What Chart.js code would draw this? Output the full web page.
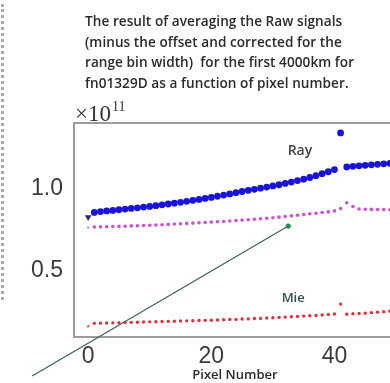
<!DOCTYPE html>
<html>
<head>
<meta charset="utf-8">
<script src="https://cdn.jsdelivr.net/npm/chart.js@4.4.1/dist/chart.umd.min.js"></script>
<style>
  html, body { margin: 0; padding: 0; background: #fff; overflow: hidden; }
  #wrap { position: relative; width: 390px; height: 383px; overflow: hidden; background: #fff; }
  #plot { position: absolute; left: 0; top: 0; width: 420px; height: 383px; }
  #caption {
    position: absolute; left: 85px; top: 11px;
    font: 600 13.6px "Open Sans", sans-serif; line-height: 20.5px;
    letter-spacing: 0.05px; color: #2b2b2b; white-space: pre;
  }
  #edge { position: absolute; left: 1px; top: 4px; height: 296px; border-left: 3px dotted #a3abbb; }
</style>
</head>
<body>
<div id="wrap">
  <div id="edge"></div>
  <div id="plot"><canvas id="chart" width="420" height="383"></canvas></div>
  <div id="caption">The result of averaging the Raw signals
(minus the offset and corrected for the
range bin width)  for the first 4000km for
fn01329D as a function of pixel number.</div>
</div>
<script>
// pixel numbers 0..50
const pixels = [0,1,2,3,4,5,6,7,8,9,10,11,12,13,14,15,16,17,18,19,20,21,22,23,24,25,
  26,27,28,29,30,31,32,33,34,35,36,37,38,39,40,41,42,43,44,45,46,47,48,49,50];

// averaged raw signal, units of 1e11
const rayValues = [0.828,0.857,0.862,0.866,0.869,0.873,0.877,0.881,0.885,0.889,0.893,
  0.898,0.903,0.908,0.913,0.918,0.924,0.930,0.936,0.942,0.948,0.955,0.962,0.969,0.977,
  0.984,0.991,0.997,1.004,1.011,1.018,1.025,1.033,1.041,1.050,1.059,1.069,1.080,1.092,
  1.104,1.117,1.340,1.133,1.137,1.140,1.143,1.146,1.149,1.152,1.155,1.158];

const pinkValues = [0.765,0.768,0.769,0.770,0.771,0.772,0.773,0.775,0.776,0.777,0.779,
  0.780,0.782,0.784,0.786,0.788,0.790,0.792,0.794,0.796,0.798,0.800,0.802,0.805,0.807,
  0.810,0.812,0.815,0.818,0.821,0.824,0.828,0.832,0.836,0.840,0.844,0.848,0.852,0.856,
  0.860,0.866,0.880,0.915,0.893,0.878,0.876,0.875,0.874,0.874,0.873,0.873];

const mieValues = [0.165,0.183,0.184,0.185,0.186,0.187,0.188,0.189,0.190,0.191,0.192,
  0.193,0.194,0.195,0.196,0.197,0.198,0.199,0.200,0.201,0.202,0.203,0.205,0.206,0.207,
  0.209,0.210,0.212,0.213,0.215,0.217,0.219,0.221,0.223,0.225,0.227,0.229,0.231,0.234,
  0.237,0.240,0.300,0.238,0.241,0.243,0.245,0.248,0.251,0.254,0.257,0.260];

const xTickValues = [0, 20, 40];
const yTickValues = [0.5, 1.0];

// pasted-on arrow, in data units
const arrowX = [-9.1, 32.5];
const arrowY = [-0.137, 0.774];

// in-plot labels, in data units
const seriesNames = ['Ray', 'Mie'];
const nameX = [34.4, 33.3];
const nameY = [1.232, 0.333];
const nameColors = ['#454545', '#2d5252'];

function toPoints(xs, ys) {
  return xs.map((x, i) => ({ x: x, y: ys[i] }));
}

const firstStyle = (normal, special) => ctx => ctx.dataIndex === 0 ? special : normal;

const frame = {
  id: 'frame',
  beforeDatasetsDraw(chart) {
    const a = chart.chartArea;
    const c = chart.ctx;
    c.save();
    c.strokeStyle = '#9c9c9c';
    c.lineWidth = 2;
    c.beginPath();
    c.moveTo(a.right + 30, a.top);
    c.lineTo(a.left, a.top);
    c.lineTo(a.left, a.bottom);
    c.lineTo(a.right + 30, a.bottom);
    c.stroke();
    c.restore();
  },
  afterDraw(chart) {
    const a = chart.chartArea;
    const c = chart.ctx;
    const xs = chart.scales.x, ys = chart.scales.y;
    c.save();
    // exponent
    c.fillStyle = '#333';
    c.textBaseline = 'alphabetic';
    c.font = '23px "Liberation Serif", serif';
    c.fillText('\u00d710', a.left + 1, a.top - 2);
    const w = c.measureText('\u00d710').width;
    c.font = '14px "Liberation Serif", serif';
    c.fillText('11', a.left + 2 + w, a.top - 12);
    // series names
    c.textAlign = 'center';
    c.textBaseline = 'middle';
    seriesNames.forEach((n, i) => {
      c.font = (i === 0 ? '600 14px' : '600 13px') + ' "Open Sans", sans-serif';
      c.fillStyle = nameColors[i];
      c.fillText(n, xs.getPixelForValue(nameX[i]), ys.getPixelForValue(nameY[i]));
    });
    c.restore();
  }
};

new Chart(document.getElementById('chart'), {
  type: 'scatter',
  data: {
    datasets: [
      {
        data: toPoints(arrowX, arrowY),
        showLine: true,
        clip: false,
        borderColor: '#3f6168',
        borderWidth: 1.3,
        pointRadius: [0, 2.6],
        pointBackgroundColor: '#2e8a55',
        pointBorderWidth: 0
      },
      {
        data: toPoints(pixels, mieValues),
        pointStyle: firstStyle('circle', 'triangle'),
        pointRadius: 1.7,
        pointBackgroundColor: '#e0303c',
        pointBorderWidth: 0
      },
      {
        data: toPoints(pixels, pinkValues),
        pointStyle: firstStyle('circle', 'triangle'),
        rotation: firstStyle(0, 180),
        pointRadius: 1.8,
        pointBackgroundColor: firstStyle('#cf4fd0', '#8f7fe0'),
        pointBorderWidth: 0
      },
      {
        data: toPoints(pixels, rayValues),
        pointStyle: firstStyle('circle', 'triangle'),
        rotation: firstStyle(0, 180),
        pointRadius: firstStyle(3.4, 3.8),
        pointBackgroundColor: firstStyle('#1a12dc', '#24247c'),
        pointBorderWidth: 0
      }
    ]
  },
  options: {
    responsive: false,
    animation: false,
    devicePixelRatio: 1,
    layout: { padding: { left: 0, right: 24, top: 123, bottom: 0 } },
    plugins: { legend: { display: false }, tooltip: { enabled: false } },
    scales: {
      x: {
        type: 'linear', min: -2.3, max: 50,
        grid: { display: false, drawTicks: false },
        border: { display: false },
        afterBuildTicks: s => { s.ticks = xTickValues.map(v => ({ value: v })); },
        afterFit: s => { s.height = 46; },
        ticks: {
          autoSkip: false, maxRotation: 0, padding: 6,
          color: '#3a3a3a', font: { family: '"Liberation Sans", sans-serif', size: 23 }
        },
        title: {
          display: true, text: 'Pixel Number', padding: 0, color: '#2b2b2b',
          font: { family: '"Open Sans", sans-serif', size: 13, weight: '600' }
        }
      },
      y: {
        min: 0.1, max: 1.4,
        grid: { display: false, drawTicks: false },
        border: { display: false },
        afterBuildTicks: s => { s.ticks = yTickValues.map(v => ({ value: v })); },
        afterFit: s => { s.width = 74; },
        ticks: {
          padding: 11, color: '#3a3a3a',
          callback: v => v.toFixed(1),
          font: { family: '"Liberation Sans", sans-serif', size: 23 }
        }
      }
    }
  },
  plugins: [frame]
});
</script>
</body>
</html>
